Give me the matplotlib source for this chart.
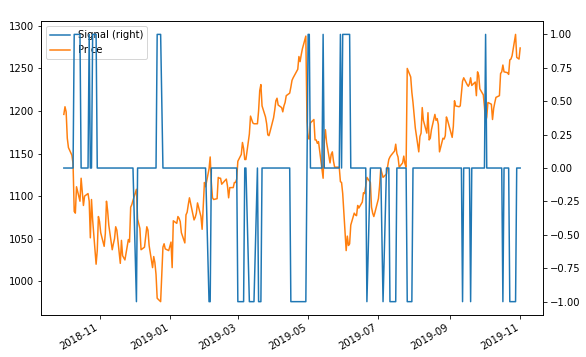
import numpy as np
import pandas as pd
import matplotlib
matplotlib.use("Agg")
import matplotlib.pyplot as plt
import matplotlib.dates as mdates

# trading days, NYSE holidays removed
holidays = ["2018-11-22", "2018-12-05", "2018-12-25", "2019-01-01", "2019-01-21",
            "2019-02-18", "2019-04-19", "2019-05-27", "2019-07-04", "2019-09-02"]
dates = pd.bdate_range("2018-10-01", "2019-11-01", freq="C", holidays=holidays)

# closing price, one row per week
price = [
    1196, 1205, 1199, 1168, 1157,
    1148, 1138, 1082, 1080, 1111,
    1094, 1121, 1105, 1089, 1100,
    1103, 1094, 1051, 1096, 1072,
    1020, 1036, 1076, 1070, 1057,
    1041, 1056, 1094, 1083, 1066,
    1037, 1044, 1050, 1064, 1060,
    1021, 1048, 1030, 1025,
    1049, 1046, 1087, 1090, 1095,
    1108, 1073, 1062, 1037,
    1040, 1052, 1064, 1060, 1042,
    1016, 1029, 1022, 1008, 980,
    976, 1040, 1044, 1038,
    1036, 1046, 1016, 1071,
    1068, 1076, 1074, 1070, 1057,
    1045, 1078, 1081, 1090, 1098,
    1072, 1075, 1080, 1092,
    1076, 1061, 1089, 1116, 1111,
    1132, 1146, 1116, 1098, 1096,
    1097, 1122, 1121, 1121, 1114,
    1120, 1112, 1098, 1110,
    1110, 1116, 1116, 1120, 1141,
    1149, 1163, 1156, 1143, 1143,
    1173, 1194, 1190, 1186, 1185,
    1185, 1200, 1224, 1231, 1206,
    1193, 1185, 1172, 1171, 1176,
    1192, 1201, 1212, 1215, 1207,
    1204, 1199, 1206, 1210, 1218,
    1221, 1228, 1236, 1239,
    1249, 1264, 1258, 1266, 1273,
    1288, 1188, 1168, 1167, 1186,
    1190, 1166, 1166, 1162, 1164,
    1132, 1121, 1165, 1178, 1163,
    1139, 1149, 1152, 1141, 1134,
    1134, 1117, 1116, 1103,
    1036, 1053, 1042, 1044, 1066,
    1080, 1078, 1077, 1089, 1086,
    1093, 1104, 1103, 1112, 1122,
    1116, 1087, 1080, 1076, 1081,
    1097, 1112, 1132, 1122,
    1126, 1135, 1143, 1146, 1148,
    1153, 1161, 1150, 1146, 1134,
    1139, 1147, 1138, 1134, 1250,
    1240, 1222, 1210, 1195, 1180,
    1152, 1170, 1174, 1204, 1189,
    1174, 1198, 1166, 1168, 1178,
    1196, 1189, 1191, 1184, 1152,
    1168, 1167, 1171, 1193, 1189,
    1169, 1182, 1212, 1206,
    1205, 1206, 1221, 1235, 1239,
    1231, 1229, 1232, 1239, 1230,
    1234, 1218, 1246, 1242, 1226,
    1219, 1205, 1187, 1193, 1210,
    1208, 1190, 1203, 1210, 1216,
    1218, 1244, 1246, 1254, 1246,
    1245, 1243, 1260, 1261, 1265,
    1290, 1263, 1262, 1261, 1274,
]

# trading signal, same layout
signal = [
    0, 0, 0, 0, 0,
    0, 0, 1, 1, 1,
    1, 0, 0, 0, 0,
    0, 1, 0, 0, 1,
    1, 0, 0, 0, 0,
    0, 0, 0, 0, 0,
    0, 0, 0, 0, 0,
    0, 0, 0, 0,
    0, 0, 0, 0, 0,
    -1, 0, 0, 0,
    0, 0, 0, 0, 0,
    0, 0, 0, 0, 1,
    1, 0, 0, 0,
    0, 0, 0, 0,
    0, 0, 0, 0, 0,
    0, 0, 0, 0, 0,
    0, 0, 0, 0,
    0, 0, 0, 0, 0,
    -1, -1, 0, 0, 0,
    0, 0, 0, 0, 0,
    0, 0, 0, 0,
    0, 0, 0, 0, -1,
    -1, -1, -1, 0, 0,
    -1, -1, -1, -1, -1,
    0, -1, -1, -1, 0,
    0, 0, 0, 0, 0,
    0, 0, 0, 0, 0,
    0, 0, 0, 0, 0,
    0, -1, -1, -1,
    -1, -1, -1, -1, -1,
    -1, 0, 1, 1, 0,
    0, 0, 0, 0, 0,
    0, 1, 0, 0, 0,
    0, 0, 0, 0, 0,
    0, 1, 0, 1,
    1, 1, 1, 1, 0,
    0, 0, 0, 0, 0,
    0, 0, 0, 0, -1,
    0, 0, 0, 0, 0,
    0, 0, 0, -1,
    0, 0, 0, -1, -1,
    -1, -1, 0, 0, 0,
    0, 0, 0, 0, -1,
    -1, -1, 0, 0, 0,
    0, 0, 0, 0, 0,
    0, 0, 0, 0, 0,
    0, 0, 0, 0, 0,
    0, 0, 0, 0, 0,
    0, 0, 0, 0,
    0, 0, 0, -1, 0,
    0, 0, 0, -1, 0,
    0, 0, 0, 0, 0,
    0, 0, 1, 0, 0,
    0, 0, 0, 0, 0,
    0, 0, 0, -1, 0,
    0, 0, -1, -1, -1,
    -1, 0, 0, 0, 0,
]

df = pd.DataFrame({"Signal": signal, "Price": price}, index=dates)

fig = plt.figure(figsize=(586 / 72, 357 / 72), dpi=72)
ax = fig.add_axes([0.07, 0.1176, 0.8566, 0.8235])
ax2 = ax.twinx()

l1, = ax2.plot(df.index, df["Signal"], color="C0", label="Signal (right)")
l2, = ax.plot(df.index, df["Price"], color="C1", label="Price")
ax.legend(handles=[l1, l2], loc="upper left")

ax.xaxis.set_major_locator(mdates.MonthLocator(bymonth=[1, 3, 5, 7, 9, 11]))
ax.xaxis.set_major_formatter(mdates.DateFormatter("%Y-%m"))
for lbl in ax.get_xticklabels():
    lbl.set_rotation(30)
    lbl.set_ha("right")

fig.savefig("out.png", dpi=72)
